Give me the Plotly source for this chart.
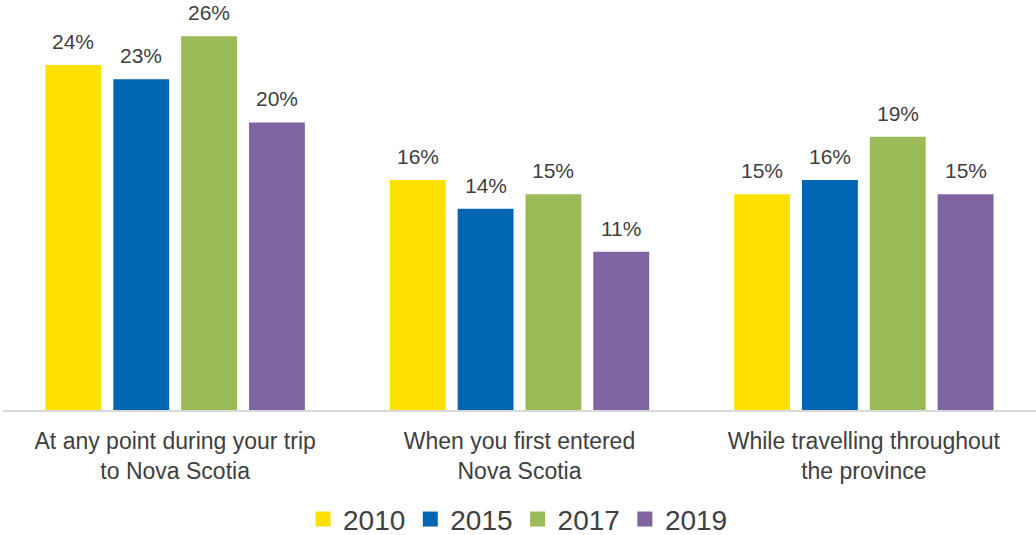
import plotly.graph_objects as go

# Survey responses by moment of the trip, per survey year
categories = [
    "At any point during your trip<br>to Nova Scotia",
    "When you first entered<br>Nova Scotia",
    "While travelling throughout<br>the province",
]
years = ["2010", "2015", "2017", "2019"]
values_2010 = [24, 16, 15]
values_2015 = [23, 14, 16]
values_2017 = [26, 15, 19]
values_2019 = [20, 11, 15]
series = [values_2010, values_2015, values_2017, values_2019]
colors = ["#FFE100", "#0066B3", "#9BBB59", "#8064A2"]

text_color = "#404040"
font_family = "Liberation Sans, Arial, sans-serif"

# Group geometry in category units (one category = 1.0)
group_width = 0.788
slot = group_width / len(years)
bar_width = 0.1623

positions = list(range(len(categories)))

fig = go.Figure()
annotations = []
for j, (year, vals, col) in enumerate(zip(years, series, colors)):
    offset = -group_width / 2 + j * slot + (slot - bar_width) / 2
    fig.add_trace(go.Bar(
        x=positions,
        y=vals,
        name=year,
        width=bar_width,
        offset=offset,
        marker=dict(color=col, line=dict(width=0)),
        showlegend=False,
    ))
    for xi, v in zip(positions, vals):
        annotations.append(dict(
            x=xi + offset + bar_width / 2, y=v, xref="x", yref="y",
            text=f"{v}%", showarrow=False,
            yanchor="bottom", yshift=10,
            font=dict(size=21, color=text_color, family=font_family),
        ))
    # square legend swatch
    fig.add_trace(go.Scatter(
        x=[None], y=[None], mode="markers", name=year,
        marker=dict(symbol="square", size=15, color=col),
        showlegend=True,
    ))

fig.update_layout(
    width=1036,
    height=535,
    margin=dict(l=3, r=0, t=0, b=125),
    paper_bgcolor="white",
    plot_bgcolor="white",
    barmode="overlay",
    font=dict(family=font_family, color=text_color),
    showlegend=True,
    legend=dict(
        orientation="h",
        x=0.5, xanchor="center", xref="container",
        y=0.076, yanchor="top", yref="container",
        font=dict(size=28, color=text_color, family=font_family),
        itemwidth=30,
        traceorder="normal",
    ),
    annotations=annotations,
    xaxis=dict(
        range=[-0.5, 2.5],
        tickvals=positions, ticktext=categories,
        showline=True, linecolor="#D9D9D9", linewidth=2,
        ticks="", ticklabelstandoff=9,
        tickfont=dict(size=23, color=text_color, family=font_family),
        showgrid=False, zeroline=False, automargin=False,
    ),
    yaxis=dict(
        range=[0, 28.52], visible=False, showgrid=False, zeroline=False,
    ),
)

fig.write_html("out.html")
